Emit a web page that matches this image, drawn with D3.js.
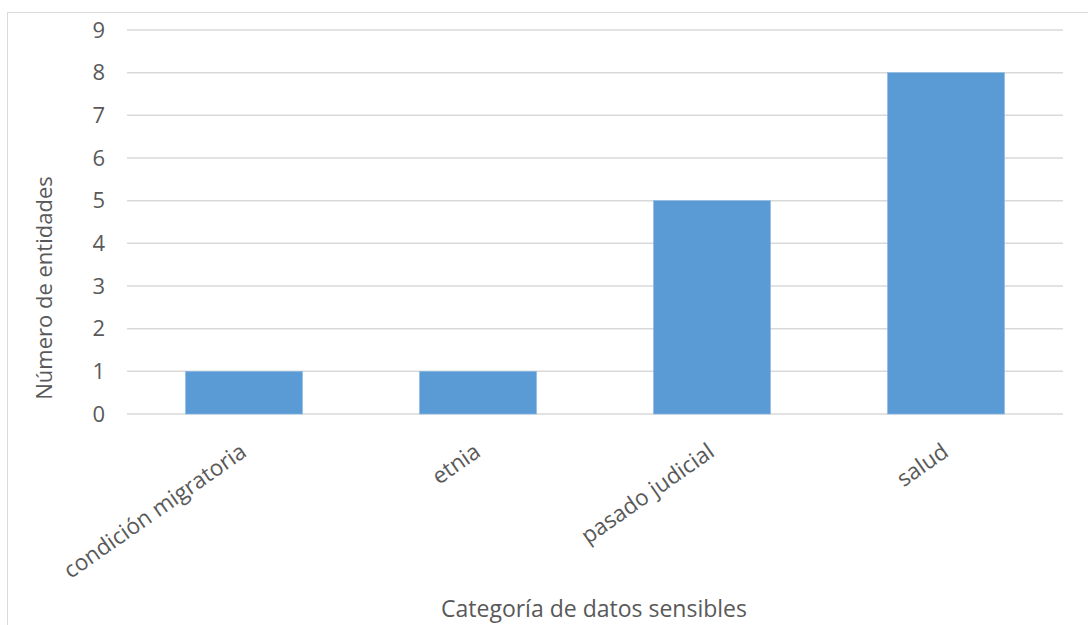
<!DOCTYPE html>
<html>
<head>
<meta charset="utf-8">
<script src="https://cdn.jsdelivr.net/npm/d3@7"></script>
<style>
  html, body { margin: 0; padding: 0; background: #fff; }
  svg text { font-family: "Open Sans", "Noto Sans", sans-serif; fill: #595959; }
</style>
</head>
<body>
<svg id="chart" width="1088" height="625"></svg>
<script>
// Sensitive-data categories and number of entities that handle each one
const categories = ["condición migratoria", "etnia", "pasado judicial", "salud"];
const counts = [1, 1, 5, 8];
const yTicks = [0, 1, 2, 3, 4, 5, 6, 7, 8, 9];
const xTitle = "Categoría de datos sensibles";
const yTitle = "Número de entidades";

const svg = d3.select("#chart");
const W = 1088, H = 625;
const plot = { left: 127, right: 1063, top: 30, bottom: 414 };
const fontSize = 22;

// outer frame (only top and left edges fall inside the view)
svg.append("path")
  .attr("d", `M7.5,${H} V12.5 H${W}`)
  .attr("fill", "none")
  .attr("stroke", "#d9d9d9")
  .attr("stroke-width", 1);

const x = d3.scaleBand()
  .domain(categories)
  .range([plot.left, plot.right])
  .paddingInner(0.5)
  .paddingOuter(0.25);

const y = d3.scaleLinear()
  .domain([0, 9])
  .range([plot.bottom, plot.top]);

// horizontal gridlines
svg.append("g")
  .selectAll("line")
  .data(yTicks)
  .join("line")
  .attr("x1", plot.left)
  .attr("x2", plot.right)
  .attr("y1", d => y(d))
  .attr("y2", d => y(d))
  .attr("stroke", "#d9d9d9")
  .attr("stroke-width", 1.5);

// y axis tick labels
const yAxis = d3.axisLeft(y).tickValues(yTicks).tickSize(0).tickPadding(0).tickFormat(d3.format("d"));
const gy = svg.append("g")
  .attr("transform", `translate(${plot.left - 22},0)`)
  .call(yAxis);
gy.select(".domain").remove();
gy.selectAll("text")
  .attr("font-size", fontSize)
  .attr("font-family", null)
  .attr("fill", "#595959");

// bars
svg.append("g")
  .selectAll("rect")
  .data(categories.map((c, i) => ({ c, v: counts[i] })))
  .join("rect")
  .attr("x", d => x(d.c))
  .attr("y", d => y(d.v))
  .attr("width", x.bandwidth())
  .attr("height", d => y(0) - y(d.v))
  .attr("fill", "#5b9bd5")
  .attr("stroke", "#8bb8e3")
  .attr("stroke-width", 0.6);

// rotated category labels
svg.append("g")
  .selectAll("text")
  .data(categories)
  .join("text")
  .attr("transform", d => `translate(${x(d) + x.bandwidth() / 2 + 4},${plot.bottom + 41}) rotate(-35)`)
  .attr("text-anchor", "end")
  .attr("font-size", fontSize + 0.5)
  .text(d => d);

// axis titles
svg.append("text")
  .attr("x", 594)
  .attr("y", 617)
  .attr("text-anchor", "middle")
  .attr("font-size", fontSize + 1)
  .text(xTitle);

svg.append("text")
  .attr("transform", `translate(52,288) rotate(-90)`)
  .attr("text-anchor", "middle")
  .attr("font-size", fontSize)
  .text(yTitle);
</script>
</body>
</html>
